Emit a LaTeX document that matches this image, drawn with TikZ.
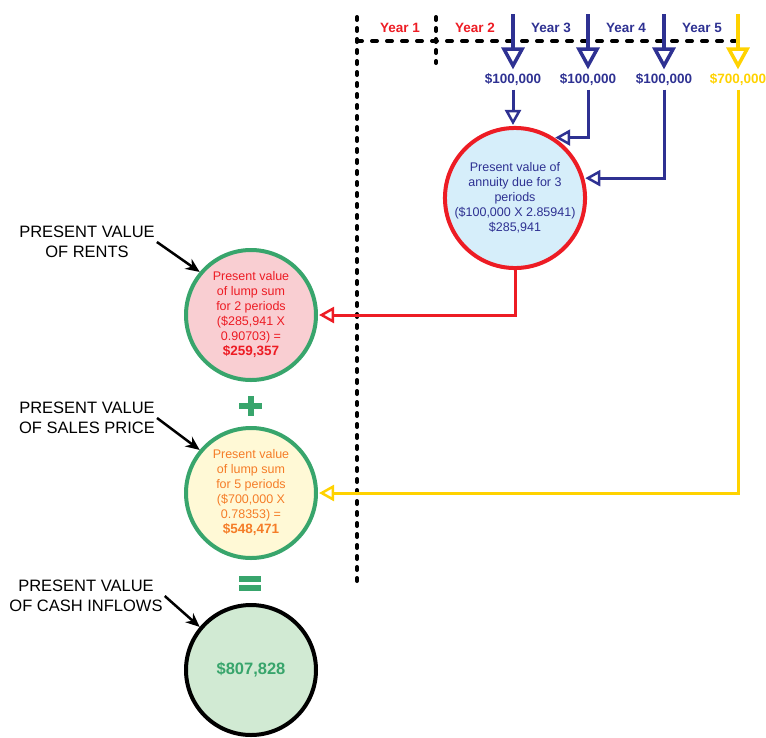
\documentclass[tikz,border=0pt]{standalone}
\usepackage{fontspec}
\setmainfont{Liberation Sans}
\usetikzlibrary{arrows.meta, positioning}
\definecolor{pvred}{RGB}{237,28,36}
\definecolor{pvnavy}{RGB}{46,49,146}
\definecolor{pvyellow}{RGB}{255,210,0}
\definecolor{pvgreen}{RGB}{56,165,108}
\definecolor{pvorange}{RGB}{245,125,40}
\definecolor{fillblue}{RGB}{214,238,250}
\definecolor{fillpink}{RGB}{249,206,210}
\definecolor{fillyellow}{RGB}{255,249,214}
\definecolor{fillgreen}{RGB}{209,234,211}

\begin{document}
\begin{tikzpicture}[
        x=1pt, y=-1pt,
        pv circle/.style={
            circle,
            draw,
            line width=4pt,
            minimum size=130pt,
            inner sep=0pt,
            align=center,
            font=\fontsize{12.5}{15}\selectfont
        },
        year label/.style={
            font=\bfseries\fontsize{13.5}{15}\selectfont
        },
        side label/.style={
            align=center,
            inner sep=2pt,
            font=\fontsize{16.5}{20}\selectfont
        },
        top arrow/.style={line width=4.5pt, shorten >=1pt,
            -{Triangle[open, line width=3.5pt, length=22pt, width=23pt]}},
        flow arrow/.style={line width=3pt, shorten >=1pt,
            -{Triangle[open, line width=2.5pt, length=15pt, width=16pt]}},
        note arrow/.style={line width=2.5pt, -{Stealth[length=14pt, width=12pt]}},
        timeline/.style={line width=4pt, line cap=round, black}
    ]
        \useasboundingbox (0,0) rectangle (766,737);

        % --- TIME LINE ---
        \draw[timeline, dash pattern=on 3pt off 8pt] (357,17) -- (357,582);
        \draw[timeline, dash pattern=on 5pt off 10pt] (357,41) -- (735,41);
        \draw[timeline, dash pattern=on 3pt off 8pt] (436,17) -- (436,63);

        \node[year label, text=pvred] (y1) at (400,28) {Year 1};
        \node[year label, text=pvred] (y2) at (475,28) {Year 2};
        \node[year label, text=pvnavy] (y3) at (551,28) {Year 3};
        \node[year label, text=pvnavy] (y4) at (626,28) {Year 4};
        \node[year label, text=pvnavy] (y5) at (702,28) {Year 5};

        % --- CASH FLOWS ---
        \node[year label, text=pvnavy] (amt1) at (513,80) {\$100,000};
        \node[year label, text=pvnavy] (amt2) at (588,80) {\$100,000};
        \node[year label, text=pvnavy] (amt3) at (664,80) {\$100,000};
        \node[year label, text=pvyellow] (amt4) at (738,80) {\$700,000};

        \coordinate (in1) at (513,14);
        \coordinate (in2) at (588,14);
        \coordinate (in3) at (664,14);
        \coordinate (in4) at (738,14);

        \draw[top arrow, pvnavy] (in1) -- (amt1.north);
        \draw[top arrow, pvnavy] (in2) -- (amt2.north);
        \draw[top arrow, pvnavy] (in3) -- (amt3.north);
        \draw[top arrow, pvyellow] (in4) -- (amt4.north);

        % --- PRESENT VALUE CIRCLES ---
        \node[pv circle, draw=pvred, fill=fillblue, text=pvnavy] (pva) at (515,198)
            {Present value of\\annuity due for 3\\periods\\(\$100,000 X 2.85941)\\\$285,941};
        \node[pv circle, draw=pvgreen, fill=fillpink, text=pvred] (pvr) at (251,315)
            {Present value\\of lump sum\\for 2 periods\\(\$285,941 X\\0.90703) =\\{\bfseries\fontsize{13.5}{15}\selectfont \$259,357}};
        \node[pv circle, draw=pvgreen, fill=fillyellow, text=pvorange] (pvs) at (251,493)
            {Present value\\of lump sum\\for 5 periods\\(\$700,000 X\\0.78353) =\\{\bfseries\fontsize{13.5}{15}\selectfont \$548,471}};
        \node[pv circle, draw=black, fill=fillgreen, text=pvgreen,
            font=\bfseries\fontsize{16.5}{20}\selectfont] (pvc) at (251,670) {\$807,828};

        % --- DISCOUNTING ARROWS ---
        \draw[flow arrow, pvnavy] (amt1.south) -- (amt1.south |- pva.north);
        \draw[flow arrow, pvnavy] (amt2.south) |- (pva.57);
        \draw[flow arrow, pvnavy] (amt3.south) |- (pva.16);
        \draw[flow arrow, pvred] (pva.south) |- (pvr.east);
        \draw[flow arrow, pvyellow] (amt4.south) |- (pvs.east);

        % --- PLUS AND EQUALS ---
        \draw[pvgreen, line width=6pt] (239,406) -- (262,406) (250.5,396) -- (250.5,416);
        \draw[pvgreen, line width=5.5pt] (239,579) -- (261,579) (239,588) -- (261,588);

        % --- SIDE LABELS ---
        \node[side label] (lrent) at (87,242) {PRESENT VALUE\\OF RENTS};
        \node[side label] (lsale) at (87,418) {PRESENT VALUE\\OF SALES PRICE};
        \node[side label] (lcash) at (86,596) {PRESENT VALUE\\OF CASH INFLOWS};

        \draw[note arrow] (lrent.east) -- (pvr.140);
        \draw[note arrow] (lsale.east) -- (pvs.140);
        \draw[note arrow] (lcash.east) -- (pvc.140);

    \end{tikzpicture}
\end{document}
